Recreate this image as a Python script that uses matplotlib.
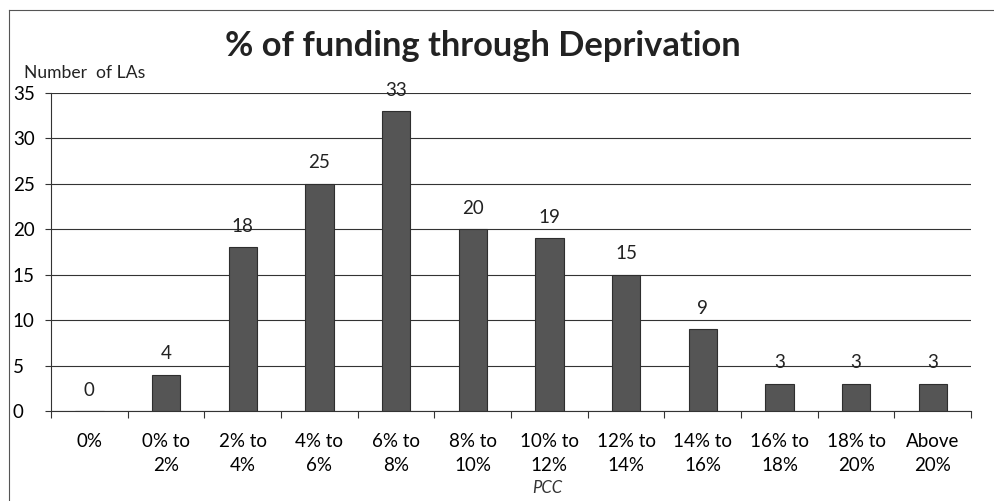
import numpy as np
import matplotlib
matplotlib.use("Agg")
from matplotlib import pyplot as plt
from matplotlib.lines import Line2D

categories = ["0%", "0% to\n2%", "2% to\n4%", "4% to\n6%", "6% to\n8%", "8% to\n10%",
              "10% to\n12%", "12% to\n14%", "14% to\n16%", "16% to\n18%", "18% to\n20%",
              "Above\n20%"]
counts = [0, 4, 18, 25, 33, 20, 19, 15, 9, 3, 3, 3]
y_ticks = [0, 5, 10, 15, 20, 25, 30, 35]

plt.rcParams['font.family'] = ['Lato', 'DejaVu Sans']

fig = plt.figure(figsize=(9.94, 5.01), dpi=100)
ax = fig.add_axes([0.0513, 0.1796, 0.9257, 0.6348])

x = np.arange(len(categories))
ax.bar(x, counts, width=0.37, color='#555555', edgecolor='#2e2e2e', linewidth=0.8, zorder=3)

for xi, c in zip(x, counts):
    ax.text(xi, c + 2.3, str(c), ha='center', va='center', fontsize=13.5, color='#222222', zorder=4)

ax.set_xlim(-0.5, len(categories) - 0.5)
ax.set_ylim(0, 35)
ax.set_yticks(y_ticks)
ax.yaxis.grid(True, color='#333333', linewidth=0.8, zorder=0)
ax.set_axisbelow(True)

# ticks sit on category boundaries, labels centred under bars
ax.set_xticks(np.arange(-0.5, len(categories), 1.0))
ax.set_xticklabels([])
ax.set_xticks(x, minor=True)
ax.set_xticklabels(categories, minor=True, fontsize=13.5, linespacing=1.45)
ax.tick_params(axis='x', which='major', length=5, width=0.8, color='#333333')
ax.tick_params(axis='x', which='minor', length=0, pad=16)
ax.tick_params(axis='y', length=4, width=0.8, color='#333333', pad=23.5, labelsize=13.5)
for lab in ax.get_yticklabels():
    lab.set_horizontalalignment('left')

for side in ['top', 'right']:
    ax.spines[side].set_visible(False)
ax.spines['left'].set_color('#333333')
ax.spines['bottom'].set_color('#333333')
ax.spines['left'].set_linewidth(0.8)
ax.spines['bottom'].set_linewidth(0.8)

fig.text(0.486, 0.908, "% of funding through Deprivation", ha='center', va='center',
         fontsize=24.8, fontweight='bold', color='#222222')
fig.text(0.024, 0.854, "Number  of LAs", ha='left', va='center', fontsize=12.6, color='#222222')
fig.text(0.551, 0.025, "PCC", ha='center', va='center', fontsize=12, style='italic', color='#333333')

# frame edges of the scanned chart
fig.add_artist(Line2D([0.009, 0.009], [0.0, 0.98], transform=fig.transFigure, color='#555555', lw=0.8))
fig.add_artist(Line2D([0.009, 1.0], [0.98, 0.98], transform=fig.transFigure, color='#555555', lw=0.8))

fig.savefig("out.png", dpi=100)
